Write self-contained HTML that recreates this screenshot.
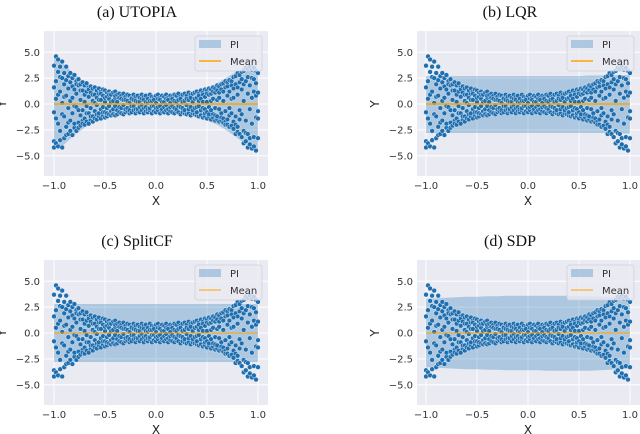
<!DOCTYPE html>
<html><head><meta charset="utf-8">
<style>
html,body{margin:0;padding:0;background:#fff;}
svg{display:block;}
.tick{font-family:"DejaVu Sans","Liberation Sans",sans-serif;font-size:10px;fill:#333;}
.axl{font-family:"DejaVu Sans","Liberation Sans",sans-serif;font-size:12px;fill:#222;}
.ttl{font-family:"Liberation Serif",serif;font-size:16px;fill:#111;}
</style></head>
<body>
<svg id="fig" width="640" height="434" viewBox="0 0 640 434"></svg>
<script>
const panelTitles = ["(a) UTOPIA", "(b) LQR", "(c) SplitCF", "(d) SDP"];
const xTicks = [-1.0, -0.5, 0.0, 0.5, 1.0];
const yTicks = [5.0, 2.5, 0.0, -2.5, -5.0];
const xTickLabels = ["\u22121.0", "\u22120.5", "0.0", "0.5", "1.0"];
const yTickLabels = ["5.0", "2.5", "0.0", "\u22122.5", "\u22125.0"];
const bandX = [-1, -0.9, -0.8, -0.7, -0.6, -0.5, -0.4, -0.3, -0.2, -0.1, 0, 0.1, 0.2, 0.3, 0.4, 0.5, 0.6, 0.7, 0.8, 0.9, 1];
const utopiaUpper = [4.6, 3.8, 2.9, 2.1, 1.6, 1.3, 1.1, 1.0, 0.9, 0.9, 0.9, 0.9, 0.9, 1.0, 1.2, 1.5, 2.0, 2.6, 3.2, 3.6, 3.5];
const utopiaLower = [-4.4, -3.9, -3.0, -2.3, -1.7, -1.4, -1.2, -1.0, -1.0, -1.0, -1.0, -1.0, -1.0, -1.1, -1.3, -1.6, -2.0, -2.6, -3.3, -4.0, -4.6];
const lqrUpper = [2.7, 2.7, 2.7, 2.7, 2.7, 2.7, 2.7, 2.7, 2.7, 2.7, 2.7, 2.7, 2.7, 2.7, 2.7, 2.7, 2.75, 2.75, 2.75, 2.8, 2.8];
const lqrLower = [-2.8, -2.8, -2.8, -2.8, -2.8, -2.8, -2.8, -2.8, -2.8, -2.8, -2.8, -2.8, -2.8, -2.8, -2.8, -2.8, -2.8, -2.8, -2.8, -2.85, -2.85];
const splitUpper = [2.8, 2.8, 2.8, 2.8, 2.8, 2.8, 2.8, 2.8, 2.8, 2.8, 2.8, 2.8, 2.8, 2.8, 2.8, 2.8, 2.8, 2.8, 2.8, 2.8, 2.8];
const splitLower = [-2.8, -2.8, -2.8, -2.8, -2.8, -2.8, -2.8, -2.8, -2.8, -2.8, -2.8, -2.8, -2.8, -2.8, -2.8, -2.8, -2.8, -2.8, -2.8, -2.8, -2.8];
const sdpUpper = [3.3, 3.35, 3.4, 3.45, 3.5, 3.5, 3.55, 3.55, 3.6, 3.6, 3.6, 3.6, 3.6, 3.6, 3.6, 3.55, 3.55, 3.5, 3.5, 3.45, 3.4];
const sdpLower = [-3.3, -3.35, -3.4, -3.45, -3.5, -3.5, -3.55, -3.55, -3.6, -3.6, -3.6, -3.6, -3.65, -3.65, -3.65, -3.65, -3.65, -3.6, -3.55, -3.5, -3.45];
const meanValue = [0.0, 0.0, 0.0, 0.0];
const pointX = [-1.00,-0.98,-0.96,-0.94,-0.92,-0.90,-0.88,-0.86,-0.84,-0.82,-0.80,-0.78,-0.76,-0.74,-0.72,-0.70,-0.68,-0.66,-0.64,-0.62,-0.60,-0.58,-0.56,-0.54,-0.52,-0.50,-0.48,-0.46,-0.44,-0.42,-0.40,-0.38,-0.36,-0.34,-0.32,-0.30,-0.28,-0.26,-0.24,-0.22,-0.20,-0.18,-0.16,-0.14,-0.12,-0.10,-0.08,-0.06,-0.04,-0.02,0.00,0.02,0.04,0.06,0.08,0.10,0.12,0.14,0.16,0.18,0.20,0.22,0.24,0.26,0.28,0.30,0.32,0.34,0.36,0.38,0.40,0.42,0.44,0.46,0.48,0.50,0.52,0.54,0.56,0.58,0.60,0.62,0.64,0.66,0.68,0.70,0.72,0.74,0.76,0.78,0.80,0.82,0.84,0.86,0.88,0.90,0.92,0.94,0.96,0.98,1.00];
const pointY = [
[3.7,-4.2,1.6,-0.8,-3.6],[4.6,-3.8,0.5,2.2,-1.4],[4.3,-4.1,-1.9,3.1,0.9],[3.6,-3.5,1.2,-2.6,2.6],[4.1,-4.2,0.1,2.5,-1.0],
[3.0,-3.3,-1.2,1.9,0.7],[3.6,-2.2,0.8,-3.0,2.3],[2.7,-2.9,-0.4,1.5,-1.8],[3.0,-2.6,2.1,-1.6,0.3],[2.5,-3.0,0.6,-0.9,1.7],
[2.8,-2.3,1.4,-1.9,-0.2],[2.2,-2.6,-0.3,1.0,1.9],[2.4,-1.8,1.8,-2.3,-0.6],[1.9,-2.1,0.4,-1.1,1.3],[2.1,-1.6,1.3,-0.6,-1.9],
[1.8,-2.0,0.9,-1.4,0.2],[2.0,-1.7,-0.2,1.2,-0.9],[1.6,-1.9,0.7,-0.9,1.4],[1.7,-1.5,1.1,-0.4,-1.2],[1.5,-1.7,0.3,-1.2,0.9],
[1.6,-1.4,0.9,-0.7,0.1],[1.3,-1.5,-0.1,0.6,-1.0],[1.5,-1.2,1.0,-0.9,0.4],[1.2,-1.4,0.4,-0.5,1.0],[1.4,-1.1,0.8,-0.3,-0.8],
[1.3,-1.3,0.2,-0.8,0.6],[1.1,-1.2,0.7,-0.4,-0.9],[1.2,-1.0,-0.2,0.5,0.9],[1.0,-1.1,0.9,-0.7,0.2],[1.1,-0.9,0.3,-0.5,-1.0],
[1.2,-1.1,0.6,-0.2,0.8],[0.9,-1.0,0.2,-0.6],[1.0,-0.8,-0.3,0.6],[0.8,-0.9,0.5,-0.4],[1.0,-1.0,-0.1,0.4],
[0.7,-0.8,0.4,-0.5],[0.9,-0.7,-0.4,0.3],[0.8,-0.9,0.1,-0.6],[0.6,-0.8,0.5,-0.2],[0.9,-0.6,-0.2,0.4],
[0.7,-0.9,0.3,-0.5],[0.8,-0.7,-0.5,0.2],[0.6,-0.8,0.2,-0.3],[0.9,-0.6,-0.1,0.5],[0.7,-0.9,0.4,-0.4],
[0.8,-0.7,-0.3,0.2],[0.5,-0.8,0.1,-0.5],[0.9,-0.6,-0.4,0.3],[0.7,-0.9,0.3,-0.2],[0.6,-0.7,-0.2,0.4],
[0.8,-0.8,0.1,-0.4],[0.9,-0.6,-0.3,0.5],[0.6,-0.9,0.4,-0.2],[0.8,-0.7,-0.5,0.2],[0.7,-0.8,0.2,-0.3],
[0.9,-0.6,-0.1,0.5],[0.6,-0.9,0.4,-0.5],[0.8,-0.7,-0.3,0.1],[0.7,-0.8,0.5,-0.2],[0.9,-0.9,-0.4,0.3],
[0.8,-0.7,0.2,-0.5],[1.0,-0.8,-0.2,0.4],[0.7,-1.0,0.5,-0.3],[0.9,-0.8,-0.4,0.2],[1.0,-0.9,0.3,-0.6],
[0.8,-1.0,-0.1,0.5],[1.1,-0.9,0.4,-0.5],[0.9,-1.1,-0.3,0.6],[1.0,-0.9,0.2,-0.6],[1.1,-1.0,-0.4,0.5],
[1.2,-1.1,0.6,-0.3,-0.8],[1.0,-1.2,-0.2,0.8,0.3],[1.3,-1.0,0.5,-0.6,-1.1],[1.1,-1.3,-0.4,0.9,0.2],[1.4,-1.2,0.7,-0.5,-0.9],
[1.3,-1.4,0.2,-0.8,1.0],[1.5,-1.2,0.9,-0.3,-1.0],[1.4,-1.5,-0.6,1.0,0.3],[1.6,-1.3,0.5,-1.0,1.2],[1.5,-1.6,1.1,-0.4,-1.1],
[1.8,-1.5,0.4,-1.2,1.3],[1.7,-1.7,-0.5,1.1,0.6],[1.9,-1.6,1.4,-0.9,-1.3],[2.0,-1.8,0.3,-1.4,1.2],[2.2,-1.7,1.6,-0.7,-2.0],
[2.1,-2.0,0.8,-1.5,1.7],[2.3,-2.2,-0.4,1.2,-1.1],[2.2,-2.1,1.8,-0.9,0.5],[2.6,-2.4,0.6,-1.7,1.5],[2.7,-2.9,1.9,-1.2,-2.0],
[3.0,-2.7,0.9,-2.2,1.6],[2.8,-2.9,-0.6,2.1,-1.5],[3.1,-3.2,1.4,-1.0,2.4],[3.2,-3.8,0.3,-2.6,1.9],[3.5,-3.6,2.2,-1.6,-2.8],
[3.4,-4.2,1.0,-2.9,2.6],[3.6,-3.9,-0.5,1.8,-3.3],[3.3,-4.3,2.5,-1.9,0.6],[3.5,-4.1,1.2,-3.2,2.4],[3.2,-4.5,-1.3,0.8,2.0],
[3.0,-3.3,1.1,-1.4,-0.7]
];
const svgNS = "http://www.w3.org/2000/svg";
const svg = document.getElementById("fig");
function mk(tag, attrs, parent) {
  const e = document.createElementNS(svgNS, tag);
  for (const k in attrs) e.setAttribute(k, attrs[k]);
  (parent || svg).appendChild(e);
  return e;
}
const panels = [
  {left: 44, top: 31, right: 268, bottom: 176, x0: 54, x1: 258, yZero: 104, upper: utopiaUpper, lower: utopiaLower, lw: 1.6, ty: 17, tx: 137},
  {left: 417, top: 31, right: 640, bottom: 176, x0: 426, x1: 630, yZero: 104, upper: lqrUpper, lower: lqrLower, lw: 1.6, ty: 17, tx: 510},
  {left: 44, top: 260, right: 268, bottom: 405, x0: 54, x1: 258, yZero: 333, upper: splitUpper, lower: splitLower, lw: 1.0, ty: 246, tx: 137},
  {left: 417, top: 260, right: 640, bottom: 405, x0: 426, x1: 630, yZero: 333, upper: sdpUpper, lower: sdpLower, lw: 1.0, ty: 246, tx: 510}
];
const unit = 10.35;
panels.forEach((p, i) => {
  const sx = v => p.x0 + (v + 1) / 2 * (p.x1 - p.x0);
  const sy = v => p.yZero - v * unit;
  const g = mk("g", {});
  
  
  const t = mk("text", {x: p.tx, y: p.ty, "text-anchor": "middle", class: "ttl"}, g);
  t.textContent = panelTitles[i];
  
  
  const bg = mk("rect", {x: p.left, y: p.top, width: p.right - p.left, height: p.bottom - p.top, fill: "#eaeaf2"}, g);
  
  
  xTicks.forEach((v, k) => {
    mk("line", {x1: sx(v), x2: sx(v), y1: p.top, y2: p.bottom, stroke: "#fff", "stroke-width": 1}, g);
    const tl = mk("text", {x: sx(v), y: p.bottom + 13, "text-anchor": "middle", class: "tick"}, g);
    tl.textContent = xTickLabels[k];
    
    
  });
  yTicks.forEach((v, k) => {
    mk("line", {x1: p.left, x2: p.right, y1: sy(v), y2: sy(v), stroke: "#fff", "stroke-width": 1}, g);
    const tl = mk("text", {x: p.left - 4, y: sy(v) + 3.5, "text-anchor": "end", class: "tick"}, g);
    tl.textContent = yTickLabels[k];
    
    
  });
  const xl = mk("text", {x: (p.x0 + p.x1) / 2, y: p.bottom + 29, "text-anchor": "middle", class: "axl"}, g);
  xl.textContent = "X";
  
  
  const yx = p.left - 38, yy = p.yZero;
  const yl = mk("text", {x: yx, y: yy, "text-anchor": "middle", class: "axl", transform: "rotate(-90 " + yx + " " + yy + ")"}, g);
  yl.textContent = "Y";
  
  
  let d = "";
  bandX.forEach((v, k) => { d += (k ? "L" : "M") + sx(v).toFixed(1) + "," + sy(p.upper[k]).toFixed(1); });
  for (let k = bandX.length - 1; k >= 0; k--) d += "L" + sx(bandX[k]).toFixed(1) + "," + sy(p.lower[k]).toFixed(1);
  const band = mk("path", {d: d + "Z", fill: "#1f77b4", "fill-opacity": 0.3}, g);
  
  
  const pts = mk("g", {}, g);
  
  
  pointX.forEach((xv, k) => {
    pointY[k].forEach(yv => {
      const c = mk("circle", {cx: sx(xv).toFixed(1), cy: sy(yv).toFixed(1), r: 2.4, fill: "#1f6fb0", stroke: "#fff", "stroke-width": 0.4}, pts);
      
      
    });
  });
  const ml = mk("line", {x1: sx(-1), x2: sx(1), y1: sy(meanValue[i]), y2: sy(meanValue[i]), stroke: "#ffa500", "stroke-width": p.lw}, g);
  
  
  const lx = p.right - 73, ly = p.top + 5;
  const lg = mk("g", {}, g);
  
  
  mk("rect", {x: lx, y: ly, width: 67, height: 35, rx: 2.5, fill: "#eaeaf2", "fill-opacity": 0.8, stroke: "#d0d0d8", "stroke-width": 0.8}, lg);
  mk("rect", {x: lx + 4, y: ly + 4, width: 22, height: 8, fill: "#1f77b4", "fill-opacity": 0.3}, lg);
  const t1 = mk("text", {x: lx + 35, y: ly + 12, class: "tick"}, lg);
  t1.textContent = "PI";
  
  
  mk("line", {x1: lx + 4, x2: lx + 26, y1: ly + 25, y2: ly + 25, stroke: "#ffa500", "stroke-width": p.lw}, lg);
  const t2 = mk("text", {x: lx + 35, y: ly + 29, class: "tick"}, lg);
  t2.textContent = "Mean";
  
  
});
</script>
</body></html>
